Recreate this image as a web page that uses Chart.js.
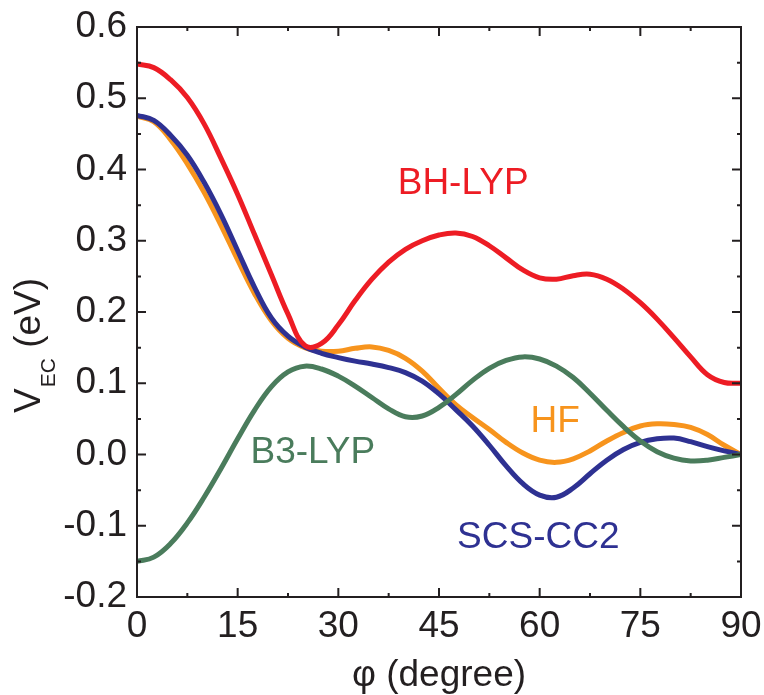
<!DOCTYPE html>
<html>
<head>
<meta charset="utf-8">
<script src="https://cdn.jsdelivr.net/npm/chart.js@4.4.1/dist/chart.umd.min.js"></script>
<style>
  html, body { margin: 0; padding: 0; background: #fff; }
  #wrap { width: 764px; height: 695px; }
</style>
</head>
<body>
<div id="wrap"><canvas id="vecChart" width="764" height="695"></canvas></div>
<script>
'use strict';

// torsion angle (degree)
const angles = [0, 2.5, 5, 7.5, 10, 12.5, 15, 17.5, 20, 22.5, 25, 27.5, 30, 32.5, 35, 37.5, 40, 42.5, 45,
  47.5, 50, 52.5, 55, 57.5, 60, 62.5, 65, 67.5, 70, 72.5, 75, 77.5, 80, 82.5, 85, 87.5, 90];

// V_EC (eV) for each method
const bhlyp = [0.548, 0.543, 0.526, 0.501, 0.464, 0.416, 0.365, 0.309, 0.253, 0.197, 0.153, 0.156, 0.182,
  0.216, 0.246, 0.270, 0.288, 0.300, 0.308, 0.311, 0.306, 0.293, 0.276, 0.259, 0.248, 0.246, 0.251, 0.253,
  0.246, 0.232, 0.213, 0.190, 0.164, 0.137, 0.112, 0.101, 0.100];
const hf = [0.475, 0.467, 0.442, 0.408, 0.368, 0.322, 0.273, 0.226, 0.188, 0.163, 0.150, 0.145, 0.145,
  0.149, 0.151, 0.146, 0.135, 0.117, 0.093, 0.070, 0.052, 0.035, 0.017, 0.002, -0.008, -0.011, -0.006,
  0.005, 0.019, 0.031, 0.040, 0.043, 0.042, 0.038, 0.028, 0.013, 0.000];
const scscc2 = [0.476, 0.469, 0.448, 0.420, 0.382, 0.337, 0.286, 0.235, 0.192, 0.166, 0.151, 0.142, 0.136,
  0.131, 0.127, 0.122, 0.115, 0.103, 0.085, 0.063, 0.040, 0.013, -0.016, -0.041, -0.057, -0.060, -0.047,
  -0.027, -0.008, 0.007, 0.017, 0.022, 0.023, 0.018, 0.011, 0.005, 0.000];
const b3lyp = [-0.150, -0.144, -0.125, -0.096, -0.060, -0.020, 0.022, 0.062, 0.095, 0.116, 0.124, 0.120,
  0.110, 0.096, 0.080, 0.064, 0.053, 0.054, 0.066, 0.084, 0.104, 0.121, 0.132, 0.137, 0.134, 0.124, 0.108,
  0.086, 0.062, 0.039, 0.019, 0.004, -0.005, -0.009, -0.008, -0.004, 0.000];

const xTicks = [0, 15, 30, 45, 60, 75, 90];
const yTicks = [-0.2, -0.1, 0.0, 0.1, 0.2, 0.3, 0.4, 0.5, 0.6];

// curve names written in the plot, placed in data units
const curveLabels = [
  { text: 'BH-LYP', color: '#ED1C24', x: 48.6, y: 0.366 },
  { text: 'HF', color: '#F7941D', x: 62.3, y: 0.032 },
  { text: 'B3-LYP', color: '#4A7C5C', x: 26.2, y: -0.012 },
  { text: 'SCS-CC2', color: '#2E3192', x: 59.8, y: -0.131 }
];

const FONT = '"Liberation Sans", Arial, sans-serif';
const AXIS = '#231F20';

function pts(values) {
  return angles.map(function (a, i) { return { x: a, y: values[i] }; });
}

function line(label, values, color, order) {
  return {
    label: label,
    data: pts(values),
    borderColor: color,
    borderWidth: 5,
    pointRadius: 0,
    fill: false,
    tension: 0.4,
    order: order
  };
}

// frame, inward ticks, titles and curve labels
const decor = {
  id: 'decor',
  afterDraw(chart) {
    const ctx = chart.ctx;
    const xs = chart.scales.x, ys = chart.scales.y;
    const a = chart.chartArea;
    ctx.save();
    ctx.strokeStyle = AXIS;
    ctx.lineWidth = 2;
    ctx.strokeRect(a.left, a.top, a.right - a.left, a.bottom - a.top);

    ctx.beginPath();
    for (let v = 0; v <= 90; v += 7.5) {
      const px = xs.getPixelForValue(v);
      const len = (v % 15 === 0) ? 9 : 4;
      ctx.moveTo(px, a.bottom); ctx.lineTo(px, a.bottom - len);
      ctx.moveTo(px, a.top); ctx.lineTo(px, a.top + len);
    }
    for (let k = -4; k <= 12; k++) {
      const v = k * 0.05;
      const py = ys.getPixelForValue(v);
      const len = (k % 2 === 0) ? 9 : 4;
      ctx.moveTo(a.left, py); ctx.lineTo(a.left + len, py);
      ctx.moveTo(a.right, py); ctx.lineTo(a.right - len, py);
    }
    ctx.stroke();

    // x title
    ctx.fillStyle = AXIS;
    ctx.font = '37px ' + FONT;
    ctx.textAlign = 'center';
    ctx.textBaseline = 'alphabetic';
    ctx.fillText('\u03C6 (degree)', (a.left + a.right) / 2, 686);

    // y title with subscript
    ctx.translate(40, 413);
    ctx.rotate(-Math.PI / 2);
    ctx.textAlign = 'left';
    ctx.font = '37px ' + FONT;
    ctx.fillText('V', 0, 0);
    let w = ctx.measureText('V').width;
    ctx.font = '21px ' + FONT;
    ctx.fillText('EC', w + 1, 15);
    w += 1 + ctx.measureText('EC').width;
    ctx.font = '37px ' + FONT;
    ctx.fillText(' (eV)', w, 0);
    ctx.restore();

    ctx.save();
    ctx.font = '37px ' + FONT;
    ctx.textAlign = 'center';
    ctx.textBaseline = 'alphabetic';
    curveLabels.forEach(function (l) {
      ctx.fillStyle = l.color;
      ctx.fillText(l.text, xs.getPixelForValue(l.x), ys.getPixelForValue(l.y));
    });
    ctx.restore();
  }
};

const ctx = document.getElementById('vecChart').getContext('2d');
new Chart(ctx, {
  type: 'line',
  data: {
    datasets: [
      line('BH-LYP', bhlyp, '#ED1C24', 1),
      line('B3-LYP', b3lyp, '#4A7C5C', 2),
      line('SCS-CC2', scscc2, '#2E3192', 3),
      line('HF', hf, '#F7941D', 4)
    ]
  },
  options: {
    responsive: false,
    animation: false,
    layout: { padding: { left: 0, top: 27, right: 23, bottom: 0 } },
    plugins: { legend: { display: false }, tooltip: { enabled: false } },
    scales: {
      x: {
        type: 'linear',
        min: 0, max: 90,
        afterBuildTicks: function (s) { s.ticks = xTicks.map(function (v) { return { value: v }; }); },
        afterFit: function (s) { s.height = 98; s.paddingLeft = 0; s.paddingRight = 0; },
        grid: { display: false, drawTicks: false },
        border: { display: false },
        ticks: { color: AXIS, font: { family: FONT, size: 37 }, padding: 8, maxRotation: 0 }
      },
      y: {
        min: -0.2, max: 0.6,
        afterBuildTicks: function (s) { s.ticks = yTicks.map(function (v) { return { value: v }; }); },
        afterFit: function (s) { s.width = 137; s.paddingTop = 0; s.paddingBottom = 0; },
        grid: { display: false, drawTicks: false },
        border: { display: false },
        ticks: {
          color: AXIS, font: { family: FONT, size: 37 }, padding: 10,
          callback: function (v) { return v.toFixed(1); }
        }
      }
    }
  },
  plugins: [decor]
});
</script>
</body>
</html>
